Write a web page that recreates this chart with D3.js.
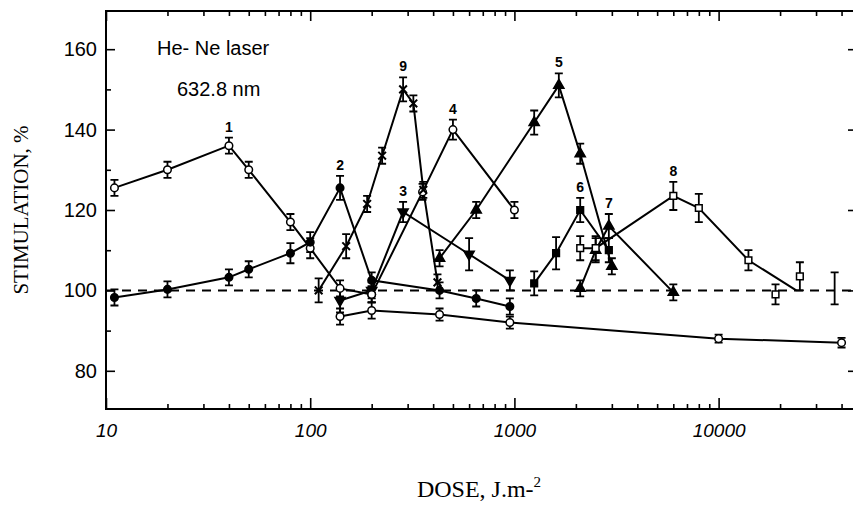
<!DOCTYPE html>
<html>
<head>
<meta charset="utf-8">
<script src="https://cdn.jsdelivr.net/npm/d3@7"></script>
<style>
  body { margin: 0; background: #fff; }
  svg { display: block; }
</style>
</head>
<body>
<div id="chart"></div>
<script>
// each point: [dose J/m2, stimulation %, error %]; error null = no marker
const series1 = [[11, 125.5, 2], [20, 130, 2], [40, 136, 2], [50, 130, 2], [80, 117, 2], [100, 110.5, 2.5], [140, 100.5, 2], [200, 99, 2]];
const series2 = [[11, 98.25, 2], [20, 100.25, 2], [40, 103.25, 2], [50, 105.25, 2], [80, 109.25, 2.5], [100, 112, 2.5], [140, 125.5, 3], [200, 102.5, 2], [430, 100, 2], [650, 98, 2], [950, 96, 2]];
const series3 = [[140, 97.5, 3], [200, 100, 2], [285, 119.5, 2.5], [600, 109, 4], [950, 102.5, 2.5]];
const series4 = [[200, 99, 2], [355, 124.5, 2], [500, 140, 2.5], [1000, 120, 2]];
const series5 = [[430, 108, 2], [650, 120, 2], [1250, 141.75, 3], [1650, 151, 3], [2100, 134, 2.5], [3000, 106, 2]];
const series6 = [[1250, 101.75, 3], [1600, 109.25, 4], [2100, 120, 3], [2900, 110, 3]];
const series7 = [[2100, 100.5, 2], [2500, 110, 3], [2900, 116, 3], [6000, 99.5, 2]];
const series8 = [[2100, 110.5, 3], [2500, 110.5, 3], [6000, 123.5, 3.5], [8000, 120.5, 3.5], [14000, 107.5, 2.5], [24000, 100, null]];
const series9 = [[110, 100, 3], [150, 111, 3], [190, 121.5, 2], [225, 133.5, 2], [285, 150, 3], [320, 146.5, 2], [358, 125, 2], [420, 102, 2]];
const series10 = [[140, 93.5, 2], [200, 95, 2], [430, 94, 1.5], [950, 92, 1.5], [10000, 88, 1], [40000, 87, 1.2]];
const looseSquares = [[19000, 99, 2.5], [25000, 103.5, 3.5]];
const looseBars = [[37000, 100.5, 4]];

const seriesLabels = ['1', '2', '3', '4', '5', '6', '7', '8', '9', ''];
const xMajorTicks = [10, 100, 1000, 10000];
const yMajorTicks = [80, 100, 120, 140, 160];
const yMinorTicks = [90, 110, 130, 150];
const baseline = 100;

const width = 853;
const height = 508;
const margin = {top: 11, right: 1, bottom: 100, left: 106};

const allSeries = [series1, series2, series3, series4, series5, series6, series7, series8, series9, series10];
const markers = ['circleOpen', 'circle', 'triDown', 'circleOpen', 'triUp', 'square', 'triUp', 'squareOpen', 'times', 'circleOpen'];

const x = d3.scaleLog()
    .domain([10, 45000])
    .range([margin.left, width - margin.right]);

const y = d3.scaleLinear()
    .domain([70.5, 169.5])
    .range([height - margin.bottom + 1, margin.top]);

const svg = d3.select('#chart')
  .append('svg')
    .attr('width', width)
    .attr('height', height);

const xMinorTicks = [];
[10, 100, 1000, 10000].forEach(d => {
  for (let k = 2; k <= 9; k++) if (d * k < 45000) xMinorTicks.push(d * k);
});

const plotBottom = y.range()[0];
const plotTop = y.range()[1];

// axes
svg.append('g')
    .attr('transform', `translate(0,${plotBottom})`)
    .call(d3.axisBottom(x).tickValues(xMinorTicks).tickSize(-5).tickFormat(''))
    .call(g => g.select('.domain').remove());

svg.append('g')
    .attr('transform', `translate(0,${plotBottom})`)
    .call(d3.axisBottom(x).tickValues(xMajorTicks).tickSize(-11).tickPadding(15).tickFormat(d3.format('d')))
    .call(g => g.select('.domain').remove())
    .call(g => g.selectAll('text')
        .attr('font-family', 'Liberation Sans, Arial, sans-serif')
        .attr('font-style', 'italic')
        .attr('font-size', 19)
        .attr('fill', '#000'));

svg.append('g')
    .attr('transform', `translate(0,${plotTop})`)
    .call(d3.axisTop(x).tickValues(xMinorTicks).tickSize(-5).tickFormat(''))
    .call(g => g.select('.domain').remove());

svg.append('g')
    .attr('transform', `translate(0,${plotTop})`)
    .call(d3.axisTop(x).tickValues(xMajorTicks).tickSize(-10).tickFormat(''))
    .call(g => g.select('.domain').remove());

svg.append('g')
    .attr('transform', `translate(${margin.left},0)`)
    .call(d3.axisLeft(y).tickValues(yMinorTicks).tickSize(-5).tickFormat(''))
    .call(g => g.select('.domain').remove());

svg.append('g')
    .attr('transform', `translate(${margin.left},0)`)
    .call(d3.axisLeft(y).tickValues(yMajorTicks).tickSize(-9).tickPadding(9))
    .call(g => g.select('.domain').remove())
    .call(g => g.selectAll('text')
        .attr('font-family', 'Liberation Sans, Arial, sans-serif')
        .attr('font-size', 20)
        .attr('fill', '#000'));

// right axis sits just past the picture edge, only its ticks show
svg.append('g')
    .attr('transform', `translate(${width + 1},0)`)
    .call(d3.axisRight(y).tickValues(yMajorTicks).tickSize(-6).tickFormat(''))
    .call(g => g.select('.domain').remove());

svg.selectAll('.tick line')
    .attr('stroke', '#000')
    .attr('stroke-width', 1.6);

svg.append('rect')
    .attr('x', margin.left)
    .attr('y', plotTop)
    .attr('width', width + 2 - margin.left)
    .attr('height', plotBottom - plotTop)
    .attr('fill', 'none')
    .attr('stroke', '#000')
    .attr('stroke-width', 2);

// axis titles
svg.append('text')
    .attr('transform', `translate(28,${(plotTop + plotBottom) / 2}) rotate(-90)`)
    .attr('text-anchor', 'middle')
    .attr('font-family', 'Liberation Serif, Times New Roman, serif')
    .attr('font-size', 21)
    .text('STIMULATION, %');

svg.append('text')
    .attr('x', (margin.left + width - margin.right) / 2)
    .attr('y', 497)
    .attr('text-anchor', 'middle')
    .attr('font-family', 'Liberation Serif, Times New Roman, serif')
    .attr('font-size', 24)
    .text('DOSE, J.m-')
  .append('tspan')
    .attr('dy', -10)
    .attr('font-size', 15)
    .text('2');

// annotation
const note = svg.append('g')
    .attr('font-family', 'Liberation Sans, Arial, sans-serif')
    .attr('font-size', 20);
note.append('text').attr('x', 157).attr('y', 55).text('He- Ne laser');
note.append('text').attr('x', 177).attr('y', 96).text('632.8 nm');

// baseline
svg.append('line')
    .attr('x1', margin.left)
    .attr('x2', width)
    .attr('y1', y(baseline))
    .attr('y2', y(baseline))
    .attr('stroke', '#000')
    .attr('stroke-width', 2)
    .attr('stroke-dasharray', '9,7');

const line = d3.line()
    .x(d => x(d[0]))
    .y(d => y(d[1]));

svg.append('g')
  .selectAll('path')
  .data(allSeries)
  .join('path')
    .attr('d', line)
    .attr('fill', 'none')
    .attr('stroke', '#000')
    .attr('stroke-width', 2);

// error bars
const bars = allSeries.flat().concat(looseSquares, looseBars).filter(d => d[2] != null);
svg.append('g')
    .attr('stroke', '#000')
    .attr('stroke-width', 1.8)
  .selectAll('path')
  .data(bars)
  .join('path')
    .attr('d', d => {
      const cx = x(d[0]);
      const y0 = y(d[1] - d[2]);
      const y1 = y(d[1] + d[2]);
      return `M${cx - 4},${y0}H${cx + 4}M${cx},${y0}V${y1}M${cx - 4},${y1}H${cx + 4}`;
    });

// markers
const symbolFor = {
  circle: d3.symbolCircle, circleOpen: d3.symbolCircle,
  square: d3.symbolSquare, squareOpen: d3.symbolSquare,
  triUp: d3.symbolTriangle, triDown: d3.symbolTriangle,
  times: d3.symbolTimes
};

const points = [];
allSeries.forEach((s, i) => s.forEach(d => {
  if (d[2] != null) points.push({d, type: markers[i]});
}));
looseSquares.forEach(d => points.push({d, type: 'squareOpen'}));

svg.append('g')
  .selectAll('path')
  .data(points)
  .join('path')
    .attr('transform', p => `translate(${x(p.d[0])},${y(p.d[1])})${p.type === 'triDown' ? ' rotate(180)' : ''}`)
    .attr('d', p => d3.symbol(symbolFor[p.type], p.type === 'times' ? 40 : 45)())
    .attr('fill', p => p.type.endsWith('Open') ? '#fff' : (p.type === 'times' ? 'none' : '#000'))
    .attr('stroke', '#000')
    .attr('stroke-width', p => p.type === 'times' ? 2 : 1.5);

// series numbers above peaks
svg.append('g')
    .attr('font-family', 'Liberation Sans, Arial, sans-serif')
    .attr('font-weight', 'bold')
    .attr('font-size', 14)
    .attr('text-anchor', 'middle')
  .selectAll('text')
  .data(allSeries.map((s, i) => ({s, label: seriesLabels[i]})).filter(o => o.label))
  .join('text')
    .attr('x', o => x(d3.greatest(o.s, d => d[1])[0]))
    .attr('y', o => {
      const p = d3.greatest(o.s, d => d[1]);
      return y(p[1] + p[2]) - 6;
    })
    .text(o => o.label);
</script>
</body>
</html>
